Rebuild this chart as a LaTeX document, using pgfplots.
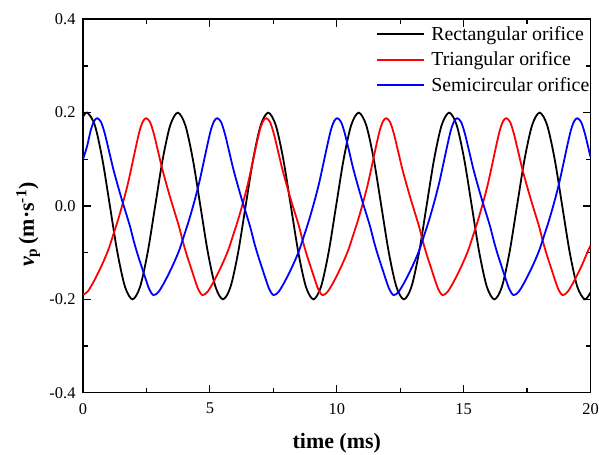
\documentclass[border=0pt]{standalone}
\usepackage{pgfplots}
\pgfplotsset{compat=1.18}
\usepackage{fontspec}
\setmainfont{Liberation Serif}

\begin{document}
\begin{tikzpicture}
\begin{axis}[
  name=ax,
  width=507.5bp, height=373.4bp, scale only axis,
  xmin=0, xmax=20, ymin=-0.4, ymax=0.4,
  xtick={0,5,10,15,20},
  ytick={-0.4,-0.2,0,0.2,0.4},
  minor x tick num=1, minor y tick num=1,
  tick align=inside,
  major tick length=8bp, minor tick length=5bp,
  every tick/.style={black, line width=1.2bp},
  axis line style={line width=1.6bp},
  ticklabel style={font=\fontsize{16.5}{16.5}\selectfont},
  /pgf/number format/assume math mode=true,
  yticklabel style={xshift=-4bp, /pgf/number format/.cd, fixed, fixed zerofill, precision=1},
  xticklabel style={yshift=-7bp, /pgf/number format/fixed},
  xlabel={\textbf{time (ms)}},
  xlabel style={font=\fontsize{22}{22}\selectfont,
    at={(axis description cs:0.5,-0.135)}, anchor=center},
  ylabel={{\bfseries\itshape v}\textsubscript{\bfseries p}\,\textbf{(m·s\textsuperscript{-1})}},
  ylabel style={font=\fontsize{22}{22}\selectfont,
    at={(axis description cs:-0.108,0.45)}, anchor=center},
  legend style={draw=none, fill=none, at={(1,1)}, anchor=north east,
    xshift=3bp, yshift=-3bp,
    font=\fontsize{19.9}{22}\selectfont, inner sep=2bp, row sep=6bp, column sep=5bp},
  legend cell align=left,
  legend image code/.code={\draw[mark repeat=2,mark phase=2,#1]
    plot coordinates {(0bp,0bp) (23bp,0bp) (46bp,0bp)};},
  every axis plot/.append style={line width=1.8bp, smooth},
]
% Rectangular orifice
\addplot[black] coordinates {
(0,0.191) (0.170,0.2) (0.467,0.173) (0.764,0.1) (1.061,0) (1.358,-0.1) (1.655,-0.173)
(1.953,-0.2) (2.250,-0.173) (2.547,-0.1) (2.844,0) (3.141,0.1) (3.438,0.173)
(3.735,0.2) (4.032,0.173) (4.329,0.1) (4.626,0) (4.923,-0.1) (5.220,-0.173)
(5.517,-0.2) (5.815,-0.173) (6.112,-0.1) (6.409,0) (6.706,0.1) (7.003,0.173)
(7.300,0.2) (7.597,0.173) (7.894,0.1) (8.191,0) (8.488,-0.1) (8.785,-0.173)
(9.082,-0.2) (9.379,-0.173) (9.677,-0.1) (9.974,0) (10.271,0.1) (10.568,0.173)
(10.865,0.2) (11.162,0.173) (11.459,0.1) (11.756,0) (12.053,-0.1) (12.350,-0.173)
(12.647,-0.2) (12.944,-0.173) (13.241,-0.1) (13.539,0) (13.836,0.1) (14.133,0.173)
(14.430,0.2) (14.727,0.173) (15.024,0.1) (15.321,0) (15.618,-0.1) (15.915,-0.173)
(16.212,-0.2) (16.509,-0.173) (16.806,-0.1) (17.103,0) (17.401,0.1) (17.698,0.173)
(17.995,0.2) (18.292,0.173) (18.589,0.1) (18.886,0) (19.183,-0.1) (19.480,-0.173)
(19.777,-0.2) (20,-0.185)
};
\addlegendentry{Rectangular orifice}
% Triangular orifice
\addplot[red] coordinates {
(0,-0.190) (0.19,-0.183) (0.46,-0.158) (0.74,-0.127) (0.99,-0.095) (1.19,-0.062)
(1.38,-0.030) (1.59,0.010) (1.77,0.048) (1.94,0.090) (2.09,0.128) (2.24,0.163)
(2.37,0.182) (2.49,0.188)
(2.64,0.180) (2.79,0.155) (2.95,0.119) (3.12,0.080) (3.29,0.046) (3.47,0.012)
(3.64,-0.018) (3.79,-0.045) (3.94,-0.077) (4.09,-0.105) (4.24,-0.130) (4.39,-0.155)
(4.54,-0.178) (4.71,-0.191)
(4.92,-0.183) (5.19,-0.158) (5.47,-0.127) (5.72,-0.095) (5.92,-0.062) (6.11,-0.030)
(6.32,0.010) (6.50,0.048) (6.67,0.090) (6.82,0.128) (6.97,0.163) (7.10,0.182) (7.22,0.188)
(7.37,0.180) (7.52,0.155) (7.68,0.119) (7.85,0.080) (8.02,0.046) (8.20,0.012)
(8.37,-0.018) (8.52,-0.045) (8.67,-0.077) (8.82,-0.105) (8.97,-0.130) (9.12,-0.155)
(9.27,-0.178) (9.44,-0.191)
(9.65,-0.183) (9.92,-0.158) (10.20,-0.127) (10.45,-0.095) (10.65,-0.062) (10.84,-0.030)
(11.05,0.010) (11.23,0.048) (11.40,0.090) (11.55,0.128) (11.70,0.163) (11.83,0.182) (11.95,0.188)
(12.10,0.180) (12.25,0.155) (12.41,0.119) (12.58,0.080) (12.75,0.046) (12.93,0.012)
(13.10,-0.018) (13.25,-0.045) (13.40,-0.077) (13.55,-0.105) (13.70,-0.130) (13.85,-0.155)
(14.00,-0.178) (14.17,-0.191)
(14.38,-0.183) (14.65,-0.158) (14.93,-0.127) (15.18,-0.095) (15.38,-0.062) (15.57,-0.030)
(15.78,0.010) (15.96,0.048) (16.13,0.090) (16.28,0.128) (16.43,0.163) (16.56,0.182) (16.68,0.188)
(16.83,0.180) (16.98,0.155) (17.14,0.119) (17.31,0.080) (17.48,0.046) (17.66,0.012)
(17.83,-0.018) (17.98,-0.045) (18.13,-0.077) (18.28,-0.105) (18.43,-0.130) (18.58,-0.155)
(18.73,-0.178) (18.90,-0.191)
(19.11,-0.183) (19.38,-0.158) (19.66,-0.127) (19.91,-0.095) (20,-0.085)
};
\addlegendentry{Triangular orifice}
% Semicircular orifice
\addplot[blue] coordinates {
(0,0.100) (0.16,0.128) (0.31,0.163) (0.44,0.182) (0.56,0.188)
(0.71,0.180) (0.86,0.155) (1.02,0.119) (1.19,0.080) (1.36,0.046) (1.54,0.012)
(1.71,-0.018) (1.86,-0.045) (2.01,-0.077) (2.16,-0.105) (2.31,-0.130) (2.46,-0.155)
(2.61,-0.178) (2.78,-0.191)
(2.99,-0.183) (3.26,-0.158) (3.54,-0.127) (3.79,-0.095) (3.99,-0.062) (4.18,-0.030)
(4.39,0.010) (4.57,0.048) (4.74,0.090) (4.89,0.128) (5.04,0.163) (5.17,0.182) (5.29,0.188)
(5.44,0.180) (5.59,0.155) (5.75,0.119) (5.92,0.080) (6.09,0.046) (6.27,0.012)
(6.44,-0.018) (6.59,-0.045) (6.74,-0.077) (6.89,-0.105) (7.04,-0.130) (7.19,-0.155)
(7.34,-0.178) (7.51,-0.191)
(7.72,-0.183) (7.99,-0.158) (8.27,-0.127) (8.52,-0.095) (8.72,-0.062) (8.91,-0.030)
(9.12,0.010) (9.30,0.048) (9.47,0.090) (9.62,0.128) (9.77,0.163) (9.90,0.182) (10.02,0.188)
(10.17,0.180) (10.32,0.155) (10.48,0.119) (10.65,0.080) (10.82,0.046) (11.00,0.012)
(11.17,-0.018) (11.32,-0.045) (11.47,-0.077) (11.62,-0.105) (11.77,-0.130) (11.92,-0.155)
(12.07,-0.178) (12.24,-0.191)
(12.45,-0.183) (12.72,-0.158) (13.00,-0.127) (13.25,-0.095) (13.45,-0.062) (13.64,-0.030)
(13.85,0.010) (14.03,0.048) (14.20,0.090) (14.35,0.128) (14.50,0.163) (14.63,0.182) (14.75,0.188)
(14.90,0.180) (15.05,0.155) (15.21,0.119) (15.38,0.080) (15.55,0.046) (15.73,0.012)
(15.90,-0.018) (16.05,-0.045) (16.20,-0.077) (16.35,-0.105) (16.50,-0.130) (16.65,-0.155)
(16.80,-0.178) (16.97,-0.191)
(17.18,-0.183) (17.45,-0.158) (17.73,-0.127) (17.98,-0.095) (18.18,-0.062) (18.37,-0.030)
(18.58,0.010) (18.76,0.048) (18.93,0.090) (19.08,0.128) (19.23,0.163) (19.36,0.182) (19.48,0.188)
(19.63,0.180) (19.78,0.155) (19.94,0.119) (20,0.105)
};
\addlegendentry{Semicircular orifice}
\end{axis}
\pgfresetboundingbox
\path[use as bounding box] ([shift={(-83bp,-62.3bp)}]ax.south west) rectangle ([shift={(8.5bp,19.3bp)}]ax.north east);
\end{tikzpicture}
\end{document}
